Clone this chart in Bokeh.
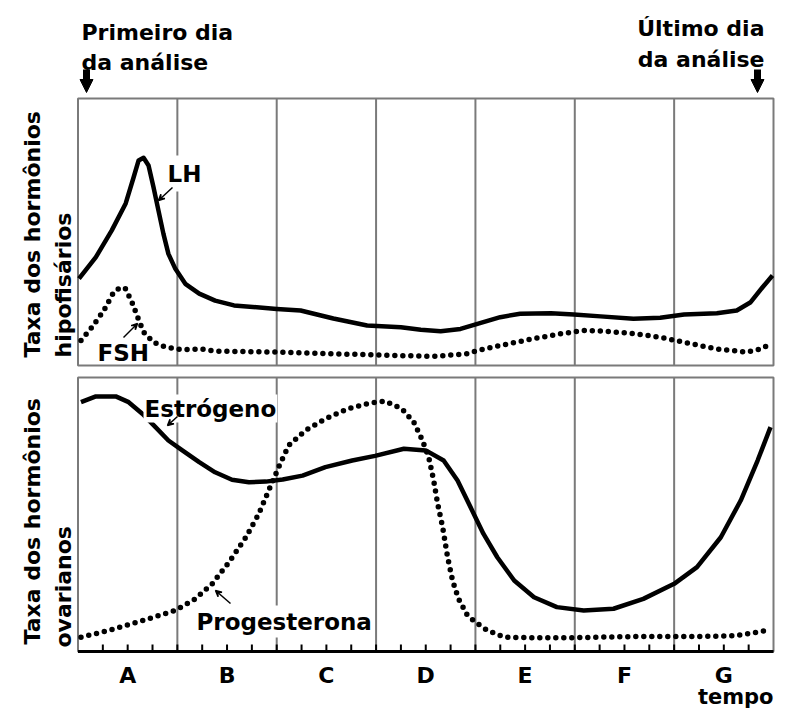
from math import pi

from bokeh.core.properties import value
from bokeh.embed import file_html
from bokeh.models import Arrow, Label, NormalHead, Range1d, VeeHead
from bokeh.plotting import figure
from bokeh.resources import INLINE

# ---- data (day of the cycle, relative level 0-100 inside each panel) ----
days = ["A", "B", "C", "D", "E", "F", "G"]

lh_x = [0.01, 0.18, 0.34, 0.48, 0.56, 0.61, 0.66, 0.71, 0.76, 0.81, 0.86, 0.91, 0.98,
        1.08, 1.22, 1.38, 1.57, 2.0, 2.24, 2.57, 2.91, 3.25, 3.45, 3.65, 3.85, 4.02,
        4.25, 4.45, 4.76, 4.99, 5.26, 5.59, 5.86, 6.1, 6.43, 6.63, 6.77, 6.89, 6.99]
lh_y = [32.5, 40.6, 50.6, 60.7, 70.5, 76.8, 77.8, 74.9, 66.8, 58.0, 49.3, 41.8, 36.2,
        30.6, 26.9, 24.3, 22.5, 21.2, 20.6, 17.6, 15.0, 14.3, 13.4, 12.8, 13.7, 15.6,
        18.1, 19.4, 19.6, 19.1, 18.4, 17.5, 17.9, 19.1, 19.6, 20.6, 23.7, 29.3, 33.7]

fsh_x = [0.03, 0.14, 0.26, 0.36, 0.43, 0.48, 0.55, 0.6, 0.66, 0.76, 0.88, 1.05, 1.23,
         1.38, 2.0, 2.57, 3.25, 3.58, 3.92, 4.02, 4.25, 4.58, 4.86, 5.09, 5.33, 5.59,
         5.86, 6.1, 6.43, 6.73, 6.87, 6.97]
fsh_y = [9.4, 14.3, 20.6, 27.5, 29.3, 28.7, 23.1, 18.1, 12.5, 8.7, 6.9, 5.9, 6.2,
         5.4, 5.0, 4.4, 3.7, 3.4, 4.4, 5.6, 7.5, 10.0, 11.9, 13.1, 12.8, 11.9,
         10.6, 8.7, 6.2, 5.0, 6.2, 8.1]

estr_x = [0.03, 0.18, 0.38, 0.51, 0.65, 0.78, 0.91, 1.05, 1.22, 1.38, 1.55, 1.72, 1.89,
          2.06, 2.26, 2.49, 2.76, 2.99, 3.28, 3.5, 3.68, 3.82, 3.95, 4.08, 4.22, 4.39,
          4.59, 4.82, 5.09, 5.39, 5.69, 6.0, 6.23, 6.47, 6.67, 6.84, 6.97]
estr_y = [91.0, 93.1, 93.1, 91.0, 86.7, 81.9, 77.0, 73.4, 69.1, 65.4, 62.7, 61.8, 62.0,
          62.8, 64.2, 67.3, 69.7, 71.4, 74.0, 73.4, 69.7, 62.4, 52.7, 43.0, 34.4, 25.9,
          19.8, 16.2, 15.0, 15.6, 19.2, 24.7, 30.8, 41.7, 55.1, 69.7, 81.9]

prog_x = [0.03, 0.31, 0.65, 0.98, 1.18, 1.35, 1.52, 1.69, 1.82, 1.92, 2.02, 2.12, 2.29,
          2.49, 2.72, 2.93, 3.09, 3.26, 3.38, 3.46, 3.53, 3.58, 3.62, 3.67, 3.72, 3.77,
          3.83, 3.92, 4.0, 4.12, 4.29, 4.62, 4.96, 5.63, 6.3, 6.63, 6.94]
prog_y = [5.2, 7.7, 11.3, 15.0, 19.2, 24.7, 32.6, 41.7, 50.3, 58.8, 67.3, 75.2, 80.7,
          84.9, 88.6, 90.6, 91.4, 88.6, 83.7, 77.6, 70.9, 62.4, 53.9, 45.4, 34.4, 25.9,
          19.2, 13.1, 10.7, 7.7, 5.2, 5.0, 5.0, 5.5, 5.5, 5.8, 7.7]

# ---- layout (pixel positions in the window) ----
W, H = 779, 712
LEFT, RIGHT = 77.5, 773.0
TOP_PANEL = (98.0, 365.0)
BOT_PANEL = (377.0, 651.0)
FONT = "DejaVu Sans"
STYLE = "bold"
GRAY = "#7a7a7a"


def cx(px):
    return px


def cy(py):
    return H - py


def panel_range(top, bottom):
    s = (bottom - top) / 100.0
    base = cy(bottom)
    return Range1d(-base / s, (H - base) / s)


sx = (RIGHT - LEFT) / len(days)
p = figure(width=W, height=H, x_range=Range1d(0, W), y_range=Range1d(0, H),
           output_backend="svg", toolbar_location=None, min_border=0,
           x_axis_location=None, y_axis_location=None)
p.outline_line_color = None
p.grid.visible = False
p.extra_x_ranges = {"day": Range1d(-cx(LEFT) / sx, (W - cx(LEFT)) / sx)}
p.extra_y_ranges = {"top": panel_range(*TOP_PANEL), "bot": panel_range(*BOT_PANEL)}

bounds = list(range(1, len(days)))
for name in ("top", "bot"):
    p.segment(x0=bounds, y0=0, x1=bounds, y1=100, line_color=GRAY, line_width=2,
              x_range_name="day", y_range_name=name)
    p.quad(left=0, right=len(days), bottom=0, top=100, fill_color=None,
           line_color=GRAY, line_width=2, x_range_name="day", y_range_name=name)

# bottom time axis with small inner ticks
bot_s = (BOT_PANEL[1] - BOT_PANEL[0]) / 100.0
ticks = [i / 4 for i in range(1, 4 * len(days))]
p.segment(x0=ticks, y0=0, x1=ticks, y1=7 / bot_s, line_color="black", line_width=2,
          x_range_name="day", y_range_name="bot")
p.segment(x0=0, y0=0, x1=len(days), y1=0, line_color="black", line_width=3,
          x_range_name="day", y_range_name="bot")
p.text(x=[i + 0.5 for i in range(len(days))], y=-24 / bot_s, text=days,
       text_font=value(FONT), text_font_size="22px", text_font_style=STYLE,
       text_align="center", text_baseline="alphabetic",
       x_range_name="day", y_range_name="bot")

# hormone curves
p.line(lh_x, lh_y, line_color="black", line_width=4.5, line_join="round",
       x_range_name="day", y_range_name="top")
p.line(fsh_x, fsh_y, line_color="black", line_width=5.5, line_cap="round",
       line_dash="0 8", x_range_name="day", y_range_name="top")
p.line(estr_x, estr_y, line_color="black", line_width=4.5, line_join="round",
       x_range_name="day", y_range_name="bot")
p.line(prog_x, prog_y, line_color="black", line_width=5.5, line_cap="round",
       line_dash="0 8", x_range_name="day", y_range_name="bot")


def label(text, x, y, size="22px", align="left", angle=0, pad=None):
    lab = Label(x=cx(x), y=cy(y), text=text, text_font=FONT, text_font_size=size,
                text_font_style=STYLE, text_align=align, text_baseline="alphabetic",
                angle=angle, text_color="black")
    if pad is not None:
        lab.background_fill_color = "white"
        lab.padding = pad
    p.add_layout(lab)


label("Primeiro dia", 81, 32)
label("da análise", 81, 62)
label("Último dia", 764, 28, align="right")
label("da análise", 764, 59, align="right")
label("Taxa dos hormônios", 32, 357, angle=pi / 2)
label("hipofisários", 63, 357, angle=pi / 2)
label("Taxa dos hormônios", 32, 644, angle=pi / 2)
label("ovarianos", 63, 647, angle=pi / 2)
label("LH", 162, 173, size="23px", pad=5)
label("FSH", 97, 352, size="23px")
label("Estrógeno", 143, 408, size="23px", pad=1)
label("Progesterona", 193, 621, size="23px", pad=3)
label("tempo", 773, 696, size="21px", align="right")

# arrows marking first and last day
for ax in (86, 757):
    p.add_layout(Arrow(x_start=cx(ax), y_start=cy(69), x_end=cx(ax), y_end=cy(92),
                       line_width=7, line_color="black",
                       end=NormalHead(size=13, fill_color="black", line_color="black")))

# small pointers from labels to curves
for (x0, y0, x1, y1) in [(172, 187, 158, 200), (123, 337, 137, 323),
                         (177, 416, 167, 425), (230, 603, 215, 590)]:
    p.add_layout(Arrow(x_start=cx(x0), y_start=cy(y0), x_end=cx(x1), y_end=cy(y1),
                       line_width=1.5, line_color="black",
                       end=VeeHead(size=6, line_width=1.5, line_color="black")))

open("out.html", "w").write(file_html(p, INLINE))
